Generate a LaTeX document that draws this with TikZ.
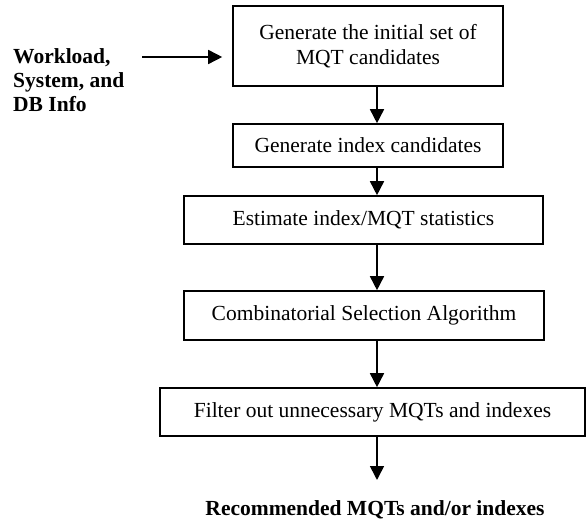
\documentclass[tikz,border=0pt]{standalone}
\usepackage{fontspec}
\setmainfont{Liberation Serif}
\usetikzlibrary{arrows.meta}

\begin{document}
\begin{tikzpicture}[x=1pt,y=-1pt,
  stage/.style={draw,line width=1.6pt,inner sep=0pt,align=center,font=\fontsize{21.5}{25}\selectfont},
  flow/.style={line width=1.6pt,-{Triangle[length=14pt,width=14pt]}},
  plain/.style={inner sep=0pt,font=\fontsize{21.5}{24.5}\selectfont\bfseries}]

\useasboundingbox (0,0) rectangle (587,519);

% the five steps
\node[stage,minimum width=270pt,minimum height=80pt] (init) at (368,46) {Generate the initial set of\\MQT candidates};
\node[stage,minimum width=270pt,minimum height=43pt] (index) at (368,145.5) {Generate index candidates};
\node[stage,minimum width=359pt,minimum height=48pt] (stats) at (363.5,220) {Estimate index/MQT statistics};
\node[stage,minimum width=360pt,minimum height=49pt] (select) at (364,315.5) {Combinatorial Selection Algorithm};
\node[stage,minimum width=425pt,minimum height=48pt] (filter) at (372.5,412) {Filter out unnecessary MQTs and indexes};

% input and output
\node[plain,anchor=base west,align=left] (input) at (13,112) {Workload,\\System, and\\DB Info};
\node[plain,anchor=base] (output) at (375,515) {Recommended MQTs and/or indexes};

\coordinate (axis) at (377,0);
\coordinate (instart) at (142,57);
\coordinate (outend) at (377,480);

\draw[flow] (instart) -- ([xshift=-10pt]init.west |- instart);
\draw[flow] (init.south -| axis) -- (index.north -| axis);
\draw[flow] (index.south -| axis) -- (stats.north -| axis);
\draw[flow] (stats.south -| axis) -- (select.north -| axis);
\draw[flow] (select.south -| axis) -- (filter.north -| axis);
\draw[flow] (filter.south -| axis) -- (outend);
\end{tikzpicture}
\end{document}
